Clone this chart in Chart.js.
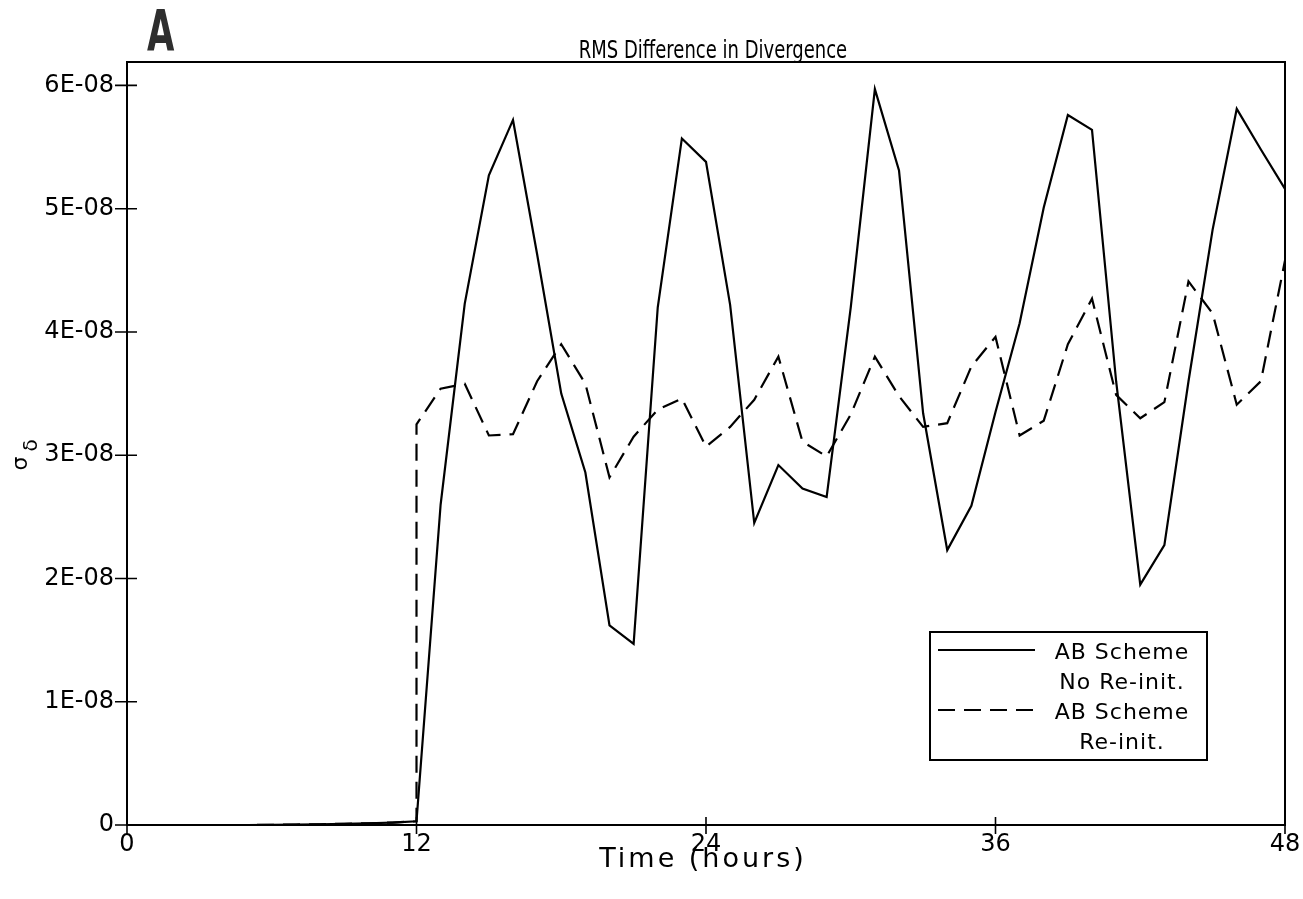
<!DOCTYPE html>
<html>
<head>
<meta charset="utf-8">
<script src="https://cdn.jsdelivr.net/npm/chart.js@4.4.1/dist/chart.umd.min.js"></script>
<style>
  html, body { margin: 0; padding: 0; background: #ffffff; }
  #wrap { position: relative; width: 1303px; height: 899px; }
</style>
</head>
<body>
<div id="wrap"><canvas id="c" width="1303" height="899"></canvas></div>
<script>
// ---------------- data (in units of 1E-08) ----------------
const UNIT = 1e-8;
const hours = [0,1,2,3,4,5,6,7,8,9,10,11,12,13,14,15,16,17,18,19,20,21,22,23,24,
               25,26,27,28,29,30,31,32,33,34,35,36,37,38,39,40,41,42,43,44,45,46,47,48];
const noReinitValues = [0,0,0,0,0,0,0.002,0.004,0.006,0.01,0.014,0.02,0.03,
                        2.6,4.23,5.27,5.72,4.63,3.5,2.86,1.62,1.47,4.2,5.57,5.38,
                        4.22,2.45,2.92,2.73,2.66,4.2,5.97,5.31,3.34,2.23,2.59,3.35,
                        4.07,5.01,5.76,5.64,3.6,1.95,2.27,3.6,4.83,5.81,5.48,5.16];
const reinitHours = [0,1,2,3,4,5,6,7,8,9,10,11,12,12,13,14,15,16,17,18,19,20,21,22,23,24,
                     25,26,27,28,29,30,31,32,33,34,35,36,37,38,39,40,41,42,43,44,45,46,47,48];
const reinitValues = [0,0,0,0,0,0,0.002,0.004,0.006,0.01,0.014,0.02,0.03,3.25,
                      3.54,3.58,3.16,3.17,3.6,3.9,3.58,2.82,3.15,3.37,3.46,3.07,
                      3.23,3.45,3.8,3.11,2.99,3.33,3.8,3.48,3.23,3.26,3.72,3.96,
                      3.16,3.28,3.9,4.27,3.49,3.3,3.43,4.41,4.15,3.41,3.6,4.58];
const xTicks = [0, 12, 24, 36, 48];
const xTickLabels = ['0', '12', '24', '36', '48'];
const yTicks = [0, 1e-8, 2e-8, 3e-8, 4e-8, 5e-8, 6e-8];
const yTickLabels = ['0', '1E-08', '2E-08', '3E-08', '4E-08', '5E-08', '6E-08'];
const seriesLabels = ['AB Scheme\nNo Re-init.', 'AB Scheme\nRe-init.'];
const chartTitle = 'RMS Difference in Divergence';
const panelLetter = 'A';
const xAxisTitle = 'Time (hours)';
const yAxisSymbol = 'σ';
const yAxisSubscript = 'δ';
// -----------------------------------------------------------------------------------------

const FONT = "'DejaVu Sans', 'Liberation Sans', sans-serif";

const toPoints = (xs, ys) => xs.map((h, i) => ({ x: h, y: ys[i] * UNIT }));

const framePlugin = {
  id: 'frameTicks',
  afterDatasetsDraw(chart) {
    const { ctx, chartArea: a, scales: { x, y } } = chart;
    ctx.save();
    ctx.strokeStyle = '#000';
    ctx.lineWidth = 2;
    ctx.strokeRect(a.left, a.top, a.right - a.left, a.bottom - a.top);
    ctx.lineWidth = 1.6;
    ctx.beginPath();
    xTicks.forEach(v => {
      const px = x.getPixelForValue(v);
      ctx.moveTo(px, a.bottom - 8); ctx.lineTo(px, a.bottom + 9);
    });
    yTicks.forEach(v => {
      const py = y.getPixelForValue(v);
      ctx.moveTo(a.left - 12, py); ctx.lineTo(a.left + 10, py);
    });
    ctx.stroke();
    ctx.restore();
  }
};

const textPlugin = {
  id: 'texts',
  afterDraw(chart) {
    const { ctx, chartArea: a } = chart;
    const cx = (a.left + a.right) / 2;
    ctx.save();
    ctx.fillStyle = '#000';
    // title (narrow glyphs)
    ctx.save();
    ctx.translate(cx + 7, a.top - 4);
    ctx.scale(0.72, 1);
    ctx.font = `25px ${FONT}`;
    ctx.textAlign = 'center';
    ctx.textBaseline = 'alphabetic';
    ctx.fillText(chartTitle, 0, 0);
    ctx.restore();
    // x axis title
    ctx.save();
    ctx.translate(cx - 3, a.bottom + 35);
    ctx.font = `27px ${FONT}`;
    ctx.letterSpacing = '3px';
    ctx.textAlign = 'center';
    ctx.textBaseline = 'middle';
    ctx.fillText(xAxisTitle, 0, 0);
    ctx.restore();
    // panel letter
    ctx.save();
    ctx.translate(a.left + 20, a.top - 11);
    ctx.scale(0.62, 1);
    ctx.fillStyle = '#2e2e2e';
    ctx.font = `bold 57px ${FONT}`;
    ctx.textAlign = 'left';
    ctx.textBaseline = 'alphabetic';
    ctx.fillText(panelLetter, 0, 0);
    ctx.restore();
    // y axis symbol (rotated, reads bottom to top)
    ctx.save();
    ctx.translate(21, (a.top + a.bottom) / 2 + 27);
    ctx.rotate(-Math.PI / 2);
    ctx.textAlign = 'left';
    ctx.textBaseline = 'middle';
    ctx.font = `22px ${FONT}`;
    ctx.fillText(yAxisSymbol, 0, 0);
    const w = ctx.measureText(yAxisSymbol).width;
    ctx.font = `20px ${FONT}`;
    ctx.fillText(yAxisSubscript, w + 5, 11);
    ctx.restore();
    ctx.restore();
  }
};

const legendPlugin = {
  id: 'boxLegend',
  afterDraw(chart) {
    const { ctx, chartArea: a } = chart;
    const W = 277, H = 128;
    const right = a.right - 78, bottom = a.bottom - 65;
    const left = right - W, top = bottom - H;
    ctx.save();
    ctx.fillStyle = '#fff';
    ctx.fillRect(left, top, W, H);
    ctx.strokeStyle = '#000';
    ctx.lineWidth = 2;
    ctx.strokeRect(left, top, W, H);
    ctx.font = `22px ${FONT}`;
    ctx.letterSpacing = '1px';
    ctx.textAlign = 'center';
    ctx.textBaseline = 'middle';
    ctx.fillStyle = '#000';
    let row = 0;
    chart.data.datasets.forEach(ds => {
      const lines = ds.label.split('\n');
      const ly = top + 18 + row * 30;
      ctx.save();
      ctx.lineWidth = 2;
      ctx.setLineDash(ds.borderDash || []);
      ctx.beginPath();
      ctx.moveTo(left + 8, ly);
      ctx.lineTo(left + 105, ly);
      ctx.stroke();
      ctx.restore();
      lines.forEach(t => {
        ctx.fillText(t, left + 192, top + 21 + row * 30);
        row++;
      });
    });
    ctx.restore();
  }
};

new Chart(document.getElementById('c'), {
  type: 'line',
  data: {
    datasets: [
      {
        label: seriesLabels[0],
        data: toPoints(hours, noReinitValues),
        borderColor: '#000',
        borderWidth: 2.2,
        pointRadius: 0,
        tension: 0,
        fill: false
      },
      {
        label: seriesLabels[1],
        data: toPoints(reinitHours, reinitValues),
        borderColor: '#000',
        borderWidth: 2.2,
        borderDash: [17, 9],
        pointRadius: 0,
        tension: 0,
        fill: false
      }
    ]
  },
  options: {
    responsive: false,
    animation: false,
    devicePixelRatio: 1,
    layout: { padding: { left: 0, right: 18, top: 62, bottom: 0 } },
    plugins: {
      legend: { display: false },
      tooltip: { enabled: false },
      title: { display: false }
    },
    scales: {
      x: {
        type: 'linear',
        min: 0,
        max: 48,
        grid: { display: false, drawTicks: false },
        border: { display: false },
        afterBuildTicks(scale) { scale.ticks = xTicks.map(v => ({ value: v })); },
        afterFit(scale) { scale.height = 74; scale.paddingLeft = 0; scale.paddingRight = 0; },
        ticks: {
          color: '#000',
          padding: 5,
          maxRotation: 0,
          autoSkip: false,
          font: { family: FONT, size: 24 },
          callback: (v, i) => xTickLabels[i]
        }
      },
      y: {
        type: 'linear',
        min: 0,
        max: 6.19e-8,
        grid: { display: false, drawTicks: false },
        border: { display: false },
        afterBuildTicks(scale) { scale.ticks = yTicks.map(v => ({ value: v })); },
        afterFit(scale) { scale.width = 127; scale.paddingTop = 0; scale.paddingBottom = 0; },
        ticks: {
          color: '#000',
          padding: 13,
          autoSkip: false,
          font: { family: FONT, size: 24 },
          callback: (v, i) => yTickLabels[i]
        }
      }
    }
  },
  plugins: [framePlugin, textPlugin, legendPlugin]
});
</script>
</body>
</html>
